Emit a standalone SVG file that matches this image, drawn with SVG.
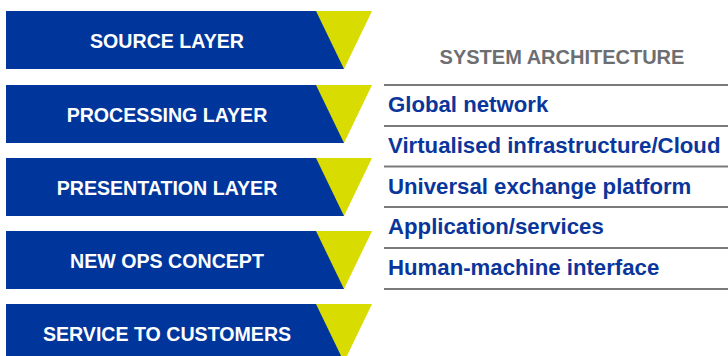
<svg xmlns="http://www.w3.org/2000/svg" width="728" height="356" viewBox="0 0 728 356">
<style>
.bar{fill:#00369c}
.tri{fill:#d8dc00}
.bt{font-family:"Liberation Sans",Arial,sans-serif;font-weight:bold;font-size:19.6px;fill:#ffffff;text-anchor:middle}
.lbl{font-family:"Liberation Sans",Arial,sans-serif;font-weight:bold;font-size:22.2px;fill:#0a369c}
.hd{font-family:"Liberation Sans",Arial,sans-serif;font-weight:bold;font-size:20px;fill:#6d6e71;text-anchor:middle}
.rule{stroke:#7a7a7a;stroke-width:2}
</style>
<rect width="728" height="356" fill="#ffffff"/>
<g id="layer-source">
<rect class="bar" x="6" y="11" width="338" height="58"/>
<polygon class="tri" points="316,11 372,11 344,69"/>
<text class="bt" x="167" y="47.5">SOURCE LAYER</text>
</g>
<g id="layer-processing">
<rect class="bar" x="6" y="85" width="338" height="58"/>
<polygon class="tri" points="316,85 372,85 344,143"/>
<text class="bt" x="167" y="121.5">PROCESSING LAYER</text>
</g>
<g id="layer-presentation">
<rect class="bar" x="6" y="158" width="338" height="58"/>
<polygon class="tri" points="316,158 372,158 344,216"/>
<text class="bt" x="167" y="194.5">PRESENTATION LAYER</text>
</g>
<g id="layer-newops">
<rect class="bar" x="6" y="231" width="338" height="58"/>
<polygon class="tri" points="316,231 372,231 344,289"/>
<text class="bt" x="167" y="267.5">NEW OPS CONCEPT</text>
</g>
<g id="layer-service">
<rect class="bar" x="6" y="304" width="338" height="58"/>
<polygon class="tri" points="316,304 372,304 344,362"/>
<text class="bt" x="167" y="340.5">SERVICE TO CUSTOMERS</text>
</g>
<g id="system-architecture">
<text class="hd" x="562" y="64">SYSTEM ARCHITECTURE</text>
<line class="rule" x1="384" y1="85" x2="728" y2="85"/>
<line class="rule" x1="384" y1="126" x2="728" y2="126"/>
<line class="rule" x1="384" y1="166.5" x2="728" y2="166.5"/>
<line class="rule" x1="384" y1="207" x2="728" y2="207"/>
<line class="rule" x1="384" y1="248" x2="728" y2="248"/>
<line class="rule" x1="384" y1="289" x2="728" y2="289"/>
<text class="lbl" x="388" y="112">Global network</text>
<text class="lbl" x="388" y="153">Virtualised infrastructure/Cloud</text>
<text class="lbl" x="388" y="193.5">Universal exchange platform</text>
<text class="lbl" x="388" y="234">Application/services</text>
<text class="lbl" x="388" y="275">Human-machine interface</text>
</g>
</svg>
